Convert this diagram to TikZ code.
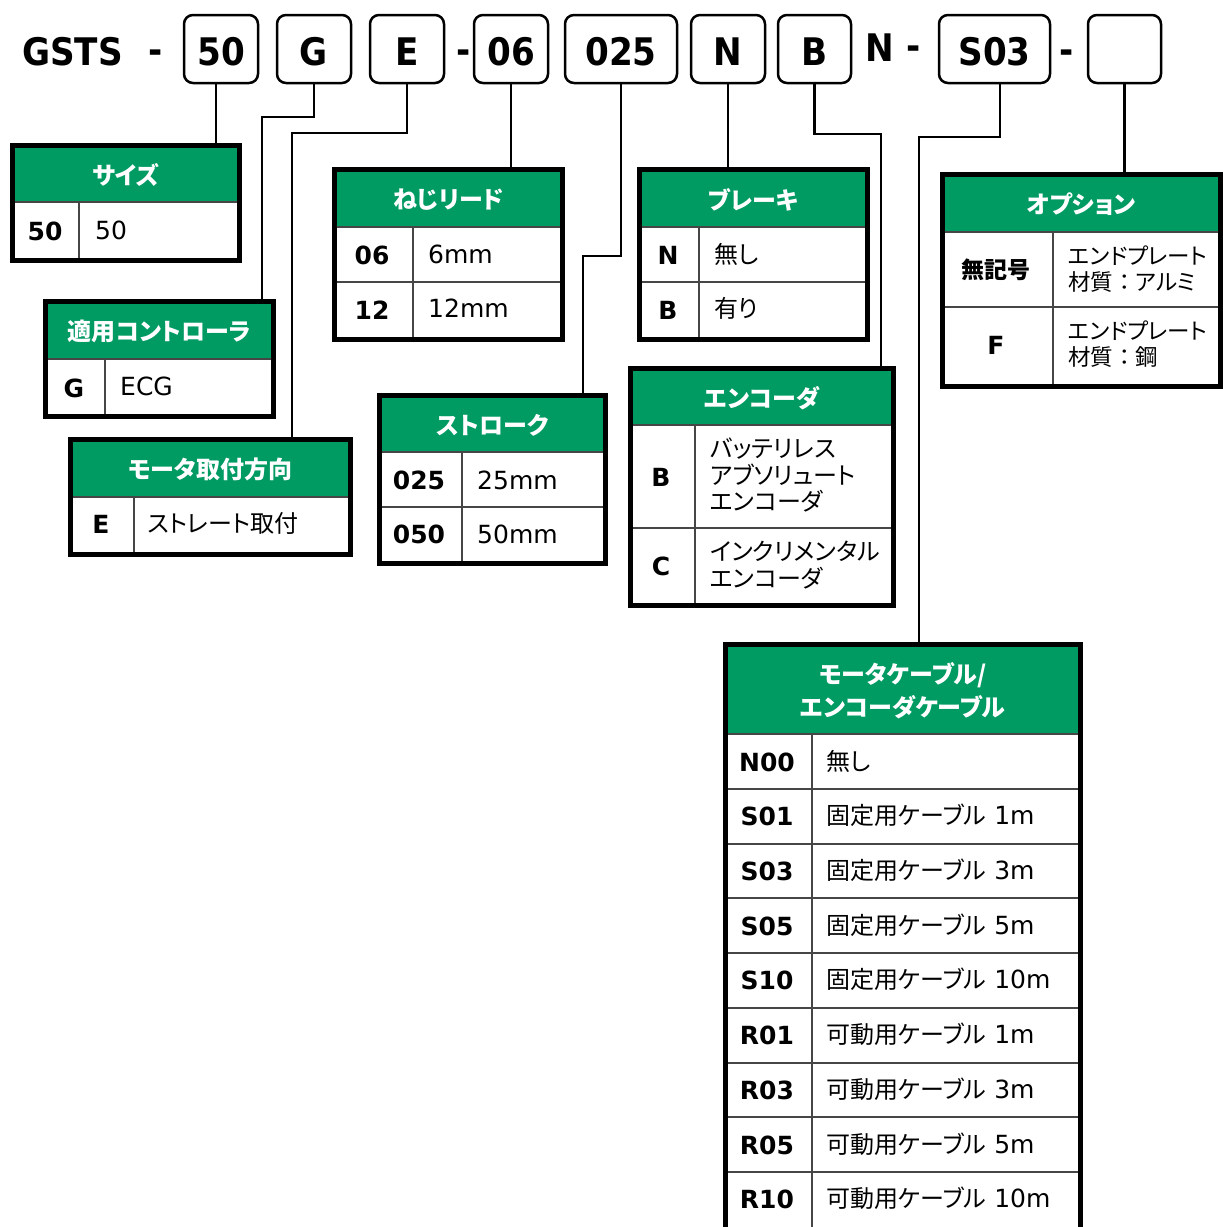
\documentclass[tikz,border=0pt]{standalone}
\usepackage{fontspec}
\setmainfont{DejaVu Sans}
\newfontfamily\topfont{DejaVu Sans}[FakeStretch=0.9]
\newfontfamily\jpfont{Noto Sans CJK JP}[RawFeature=+palt]
\newfontfamily\jpfull{Noto Sans CJK JP}
\definecolor{hdrgreen}{RGB}{0,154,99}
\definecolor{gridgray}{RGB}{70,70,70}
\newcommand\JP[1]{{\jpfont\fontsize{24}{26.5}\selectfont #1}}
% #1 name, #2 left, #3 top, #4 right, #5 bottom, #6 header bottom, #7 column x, #8 title
\newcommand\mktable[8]{%
  \fill[white] (#2,#3) rectangle (#4,#5);
  \fill[hdrgreen] (#2,#3) rectangle (#4,#6);
  \draw[gridline] (#2,#6) -- (#4,#6);
  \draw[gridline] (#7,#6) -- (#7,#5);
  \node[tblframe, minimum width={#4-#2-5}, minimum height={#5-#3-5}] (#1) at ({(#2+#4)/2},{(#3+#5)/2}) {};
  \node[hdr] (#1h) at ({(#2+#4)/2},{(#3+5+#6)/2}) {#8};
}
\begin{document}
\begin{tikzpicture}[x=1pt,y=-1pt,
  codebox/.style={draw, line width=2.5pt, rounded corners=9pt, minimum height=68pt, inner sep=0pt},
  toplbl/.style={font=\topfont\bfseries\fontsize{38}{40}\selectfont, inner sep=0pt, anchor=base},
  conn/.style={draw, line width=2.5pt},
  gridline/.style={draw=gridgray, line width=1.5pt},
  tblframe/.style={draw, line width=5pt, inner sep=0pt},
  hdr/.style={text=white, font=\jpfont\bfseries\fontsize{24}{33}\selectfont, align=center, inner sep=0pt},
  code/.style={font=\bfseries\fontsize{25}{28}\selectfont, inner sep=0pt},
  jcode/.style={font=\jpfont\bfseries\fontsize{23}{26}\selectfont, inner sep=0pt},
  desc/.style={font=\fontsize{25}{26.5}\selectfont, anchor=west, inner sep=0pt, align=left},
  jdesc/.style={font=\jpfont\fontsize{24}{26.5}\selectfont, anchor=west, inner sep=0pt, align=left},
  optdesc/.style={font=\jpfont\fontsize{22.5}{26}\selectfont, anchor=west, inner sep=0pt, align=left}
]
\useasboundingbox (0,0) rectangle (1223,1227);
\clip (0,0) rectangle (1223,1227);
\fill[white] (0,0) rectangle (1223,1227);

% ---- top code row ----
\node[toplbl, anchor=base west] (lGSTS) at (22,65) {GSTS};
\node[toplbl] (d1) at (156,63) {-};
\node[codebox, minimum width=74pt] (b50) at (221,49) {};
\node[codebox, minimum width=74pt] (bG) at (314,49) {};
\node[codebox, minimum width=74pt] (bE) at (407,49) {};
\node[toplbl] (d2) at (464,63) {-};
\node[codebox, minimum width=74pt] (b06) at (511,49) {};
\node[codebox, minimum width=112pt] (b025) at (621,49) {};
\node[codebox, minimum width=74pt] (bN) at (728,49) {};
\node[codebox, minimum width=73pt] (bB) at (814.5,49) {};
\node[toplbl] (lN) at (880,61) {N};
\node[toplbl] (d3) at (914,59) {-};
\node[codebox, minimum width=111pt] (bS) at (994.5,49) {};
\node[toplbl] (d4) at (1067,63) {-};
\node[codebox, minimum width=73pt] (bX) at (1124.5,49) {};
\node[toplbl] (l50) at (221,65) {50};
\node[toplbl] (lG) at (314,65) {G};
\node[toplbl] (lE) at (407,65) {E};
\node[toplbl] (l06) at (511,65) {06};
\node[toplbl] (l025) at (621,65) {025};
\node[toplbl] (lNb) at (728,65) {N};
\node[toplbl] (lB) at (814.5,65) {B};
\node[toplbl] (lS) at (994.5,65) {S03};

% ---- tables ----
\mktable{t50}{10}{143}{242}{263}{202}{79}{サイズ}
\node[code] (t50c1) at (45,231) {50};
\node[desc] (t50d1) at (95,230) {50};

\mktable{tG}{43}{299}{276}{419}{359}{105}{適用コントローラ}
\node[code] (tGc1) at (74,388) {G};
\node[desc] (tGd1) at (120,386) {ECG};

\mktable{tE}{68}{437}{353}{557}{497}{134}{モータ取付方向}
\node[code] (tEc1) at (101,524) {E};
\node[jdesc] (tEd1) at (147,523) {ストレート取付};

\mktable{t06}{332}{167}{565}{342}{227}{413}{ねじリード}
\draw[gridline] (337,282) -- (560,282);
\node[code] (t06c1) at (372,255) {06};
\node[desc] (t06d1) at (428,254) {6mm};
\node[code] (t06c2) at (372,310) {12};
\node[desc] (t06d2) at (428,308) {12mm};

\mktable{t025}{377}{393}{608}{566}{452}{462}{ストローク}
\draw[gridline] (382,507) -- (603,507);
\node[code] (t025c1) at (419,480) {025};
\node[desc] (t025d1) at (477,480) {25mm};
\node[code] (t025c2) at (419,534) {050};
\node[desc] (t025d2) at (477,534) {50mm};

\mktable{tN}{637}{167}{870}{342}{227}{699}{ブレーキ}
\draw[gridline] (642,282) -- (865,282);
\node[code] (tNc1) at (668,255) {N};
\node[jdesc] (tNd1) at (714,254) {無し};
\node[code] (tNc2) at (668,310) {B};
\node[jdesc] (tNd2) at (714,308) {有り};

\mktable{tB}{628}{366}{896}{608}{425}{695}{エンコーダ}
\draw[gridline] (633,528) -- (891,528);
\node[code] (tBc1) at (661,477) {B};
\node[jdesc] (tBd1) at (710,475) {バッテリレス\\アブソリュート\\エンコーダ};
\node[code] (tBc2) at (661,566) {C};
\node[jdesc] (tBd2) at (710,565) {インクリメンタル\\エンコーダ};

\mktable{tX}{940}{172}{1223}{389}{232}{1053}{オプション}
\draw[gridline] (945,307) -- (1218,307);
\node[jcode] (tXc1) at (996,270) {無記号};
\node[optdesc] (tXd1) at (1068,269) {エンドプレート\\材質{\jpfull：}アルミ};
\node[code] (tXc2) at (996,345) {F};
\node[optdesc] (tXd2) at (1068,344) {エンドプレート\\材質{\jpfull：}鋼};

\mktable{tS}{723}{642}{1083}{1233}{734}{812}{モータケーブル/\\エンコーダケーブル}
\foreach \yy in {789,844,898,953,1008,1063,1117,1172}{
  \draw[gridline] (728,\yy) -- (1078,\yy);
}
\node[code] (tSc1) at (767,762) {N00};
\node[jdesc] (tSd1) at (826,761) {無し};
\node[code] (tSc2) at (767,816) {S01};
\node[desc] (tSd2) at (826,815) {\JP{固定用ケーブル} 1m};
\node[code] (tSc3) at (767,871) {S03};
\node[desc] (tSd3) at (826,870) {\JP{固定用ケーブル} 3m};
\node[code] (tSc4) at (767,926) {S05};
\node[desc] (tSd4) at (826,925) {\JP{固定用ケーブル} 5m};
\node[code] (tSc5) at (767,980) {S10};
\node[desc] (tSd5) at (826,979) {\JP{固定用ケーブル} 10m};
\node[code] (tSc6) at (767,1035) {R01};
\node[desc] (tSd6) at (826,1034) {\JP{可動用ケーブル} 1m};
\node[code] (tSc7) at (767,1090) {R03};
\node[desc] (tSd7) at (826,1089) {\JP{可動用ケーブル} 3m};
\node[code] (tSc8) at (767,1145) {R05};
\node[desc] (tSd8) at (826,1144) {\JP{可動用ケーブル} 5m};
\node[code] (tSc9) at (767,1199) {R10};
\node[desc] (tSd9) at (826,1198) {\JP{可動用ケーブル} 10m};

% ---- connectors ----
\draw[conn] (216,0 |- b50.south) -- (216,0 |- t50.north);
\draw[conn] (bG.south) |- (262,117) -- (262,0 |- tG.north);
\draw[conn] (bE.south) |- (292,133) -- (292,0 |- tE.north);
\draw[conn] (b06.south) -- (b06.south |- t06.north);
\draw[conn] (b025.south) |- (583,256) -- (583,0 |- t025.north);
\draw[conn] (bN.south) -- (bN.south |- tN.north);
\draw[conn] (bB.south) |- (881,134) -- (881,0 |- tB.north);
\draw[conn] (1000,0 |- bS.south) |- (919,137) -- (919,0 |- tS.north);
\draw[conn] (bX.south) -- (bX.south |- tX.north);
\end{tikzpicture}
\end{document}
